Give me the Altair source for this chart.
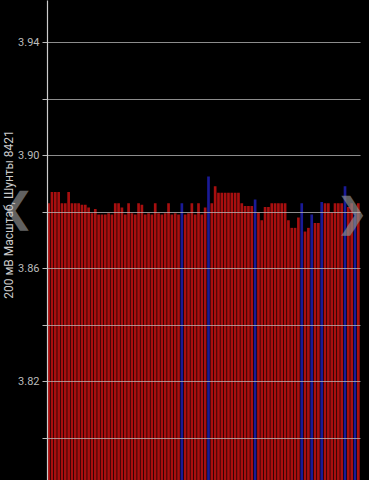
import altair as alt
import pandas as pd

values = [
    3.8830, 3.8870, 3.8870, 3.8870, 3.8830, 3.8830, 3.8870, 3.8830, 3.8830, 3.8830,
    3.8825, 3.8825, 3.8815, 3.8795, 3.8810, 3.8790, 3.8790, 3.8790, 3.8795, 3.8790,
    3.8830, 3.8830, 3.8815, 3.8790, 3.8830, 3.8795, 3.8790, 3.8830, 3.8825, 3.8790,
    3.8795, 3.8790, 3.8830, 3.8795, 3.8790, 3.8795, 3.8830, 3.8790, 3.8795, 3.8790,
    3.8830, 3.8790, 3.8795, 3.8830, 3.8790, 3.8830, 3.8790, 3.8815, 3.8925, 3.8830,
    3.8890, 3.8867, 3.8867, 3.8867, 3.8867, 3.8867, 3.8867, 3.8867, 3.8830, 3.8820,
    3.8820, 3.8820, 3.8843, 3.8797, 3.8770, 3.8817, 3.8817, 3.8830, 3.8830, 3.8830,
    3.8830, 3.8830, 3.8770, 3.8743, 3.8743, 3.8780, 3.8830, 3.8730, 3.8743, 3.8790,
    3.8760, 3.8760, 3.8835, 3.8830, 3.8830, 3.8797, 3.8830, 3.8830, 3.8830, 3.8890,
    3.8817, 3.8830, 3.8800, 3.8830,
]
blue_idx = [40, 48, 62, 76, 79, 82, 89, 92]
y_ticks = [3.80, 3.82, 3.84, 3.86, 3.88, 3.90, 3.92, 3.94]
y_labels = ["3.82", "3.86", "3.90", "3.94"]
y_title = "200 мВ Масштаб, Шунты 8421"
y_min, y_max = 3.785, 3.955

df = pd.DataFrame({
    "i": list(range(len(values))),
    "v": values,
    "kind": ["b" if i in blue_idx else "r" for i in range(len(values))],
})

label_expr = "indexof(" + str(y_labels) + ", format(datum.value, '.2f')) >= 0 ? format(datum.value, '.2f') : ''"

bars = alt.Chart(df).mark_bar(clip=True).encode(
    x=alt.X("i:O", axis=None, scale=alt.Scale(paddingInner=0.2, paddingOuter=0.1)),
    y=alt.Y("v:Q",
            scale=alt.Scale(domain=[y_min, y_max], zero=False, nice=False),
            axis=alt.Axis(values=y_ticks, labelExpr=label_expr, title=y_title,
                          grid=True, gridColor="#bbbbbb", gridOpacity=0.75, gridWidth=1,
                          domainColor="#cccccc", domainWidth=1.2,
                          tickColor="#bbbbbb", tickSize=5, tickWidth=1,
                          labelColor="#bbbbbb", labelFontSize=11, labelFont="Roboto",
                          labelPadding=3,
                          titleColor="#cccccc", titleFontSize=12, titleFont="Roboto",
                          titleFontWeight="normal", titleX=-32, titleY=214,
                          titleAngle=-90, zindex=1)),
    y2=alt.Y2(datum=y_min),
    color=alt.Color("kind:N", scale=alt.Scale(domain=["r", "b"], range=["#a80f0f", "#1a1a96"]),
                    legend=None),
)

chev = pd.DataFrame({"t": ["❮", "❯"], "px": [-29, 305], "py": [209, 214]})
chevrons = alt.Chart(chev).mark_text(fontSize=40, color="#8a8a8a", opacity=0.7,
                                     font="DejaVu Sans", fontWeight="bold",
                                     baseline="middle", align="center").encode(
    text="t:N",
    x=alt.X("px:Q", scale=None),
    y=alt.Y("py:Q", scale=None),
)

chart = alt.layer(bars, chevrons).properties(
    width=313, height=480,
    background="#000000",
    padding={"left": 47, "top": 0, "right": 9, "bottom": 0},
    autosize=alt.AutoSizeParams(type="none"),
).configure_view(stroke=None)

chart.save("out.html", embed_options={"renderer": "svg", "actions": False})
